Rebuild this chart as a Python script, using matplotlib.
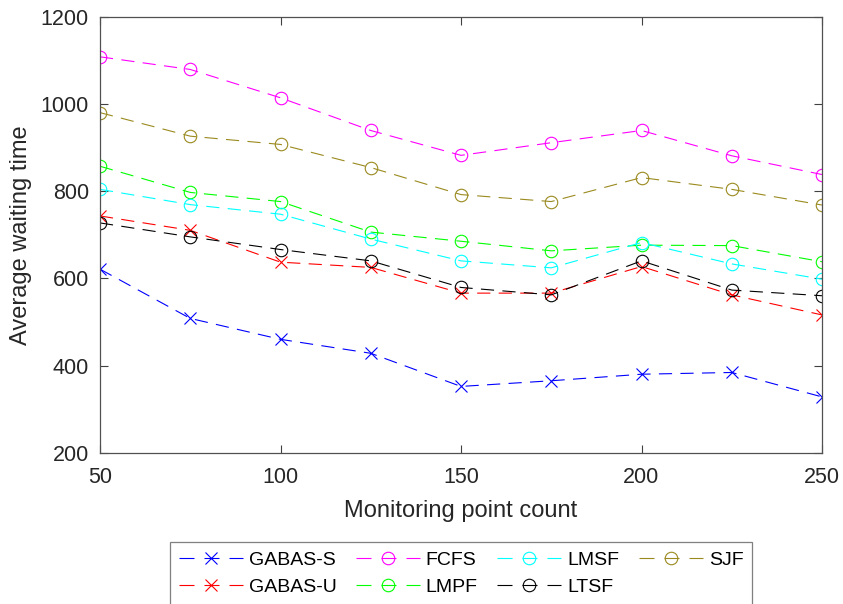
import matplotlib
matplotlib.use("Agg")
import matplotlib.pyplot as plt

plt.rcParams['font.family'] = ['Liberation Sans', 'DejaVu Sans']
plt.rcParams['lines.scale_dashes'] = False

x = [50, 75, 100, 125, 150, 175, 200, 225, 250]
gabas_s = [621, 508, 460, 428, 352, 365, 380, 384, 328]
gabas_u = [743, 710, 637, 625, 566, 566, 627, 562, 516]
fcfs = [1108, 1079, 1014, 939, 882, 911, 939, 881, 838]
lmpf = [857, 797, 776, 706, 685, 663, 676, 675, 638]
lmsf = [804, 769, 747, 690, 640, 624, 682, 633, 598]
ltsf = [727, 695, 666, 640, 579, 562, 640, 573, 560]
sjf = [980, 926, 907, 854, 792, 776, 831, 804, 768]

series = [
    ("GABAS-S", gabas_s, "#0000FF", "x"),
    ("GABAS-U", gabas_u, "#FF0000", "x"),
    ("FCFS", fcfs, "#FF00FF", "o"),
    ("LMPF", lmpf, "#00FF00", "o"),
    ("LMSF", lmsf, "#00FFFF", "o"),
    ("LTSF", ltsf, "#000000", "o"),
    ("SJF", sjf, "#9A8A1E", "o"),
]

xticks = [50, 100, 150, 200, 250]
yticks = [200, 400, 600, 800, 1000, 1200]

fig = plt.figure(figsize=(8.43, 6.04), dpi=100)
ax = fig.add_axes([100/843, 1 - 452.7/604, 722/843, 436/604])

for name, vals, col, mk in series:
    ax.plot(x, vals, color=col, linestyle=(0, (9.5, 6)), linewidth=0.8,
            marker=mk, markersize=(9 if mk == 'o' else 8), markerfacecolor='none',
            markeredgecolor=col, markeredgewidth=0.8, label=name)

ax.set_xlim(50, 250)
ax.set_ylim(200, 1200)
ax.set_xticks(xticks)
ax.set_yticks(yticks)
ax.tick_params(direction='in', length=5.5, width=0.8, top=True, right=True,
               labelsize=15.5, colors='#404040', labelcolor='#262626', pad=8)
ax.tick_params(axis='x', pad=10)
for s in ax.spines.values():
    s.set_color('#505050')
    s.set_linewidth(0.9)

ax.set_xlabel("Monitoring point count", fontsize=17, color='#262626', labelpad=9)
ax.set_ylabel("Average waiting time", fontsize=17, color='#262626', labelpad=6)

leg = fig.legend(loc='upper center', bbox_to_anchor=(461/843, 1 - 542.3/604),
                 ncol=4, fontsize=14, frameon=True, fancybox=False,
                 edgecolor='#606060', handlelength=3.3, handletextpad=0.3,
                 columnspacing=1.0, labelspacing=0.5, borderpad=0.45,
                 borderaxespad=0)
leg.get_frame().set_linewidth(0.9)
for ln in leg.get_lines():
    ln.set_dashes((10.8, 7.2))

fig.savefig("out.png", dpi=100, facecolor='white')
